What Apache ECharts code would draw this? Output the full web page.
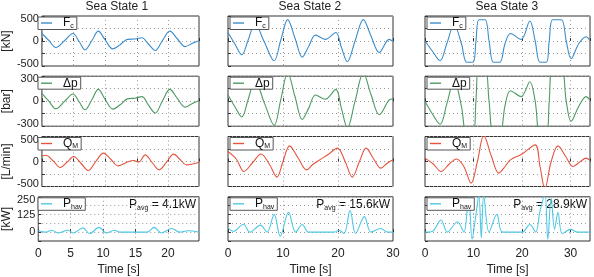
<!DOCTYPE html>
<html><head><meta charset="utf-8">
<script src="https://cdn.jsdelivr.net/npm/echarts@6/dist/echarts.min.js"></script>
<style>html,body{margin:0;padding:0;background:#fff}#c{width:594px;height:277px}</style>
</head><body><div id="c"></div>
<script>
// ---------- labels / axes ----------
const titles = ['Sea State 1', 'Sea State 2', 'Sea State 3'];
const xMax = [24.8, 30, 34];
const xInterval = [5, 10, 10];
const yNames = ['[kN]', '[bar]', '[L/min]', '[kW]'];
const yMin = [-500, -300, -500, -62.5];
const yMax = [500, 300, 500, 250];
const yInterval = [250, 150, 250, 62.5];
const yTickLabels = [[-500, 0, 500], [-300, 0, 300], [-500, 0, 500], [0, 125, 250]];
const pAvgText = ['4.1kW', '15.6kW', '28.9kW'];
const seriesKeys = ['Fc', 'dp', 'QM', 'Phav'];

// ---------- Sea State 1 ----------
const t_Fc1 = [0, 1.1, 2.2, 3.6, 4.9, 5.9, 6.8, 7.9, 8.9, 10.0, 11.2, 12.4, 13.5, 14.7, 15.8, 16.8, 17.9, 19.0, 20.2, 21.4, 22.6, 23.7, 24.8];
const Fc1   = [150, 10, -130, 10, 150, -15, -178, 10, 197, 20, -158, -70, 33, 40, 66, -60, -190, 5, 197, 40, -112, -50, 7];
const t_dp1 = [0, 1.1, 2.2, 3.6, 4.9, 5.9, 6.8, 7.9, 8.9, 10.0, 11.2, 12.4, 13.5, 14.7, 15.8, 16.8, 17.9, 19.0, 20.2, 21.4, 22.6, 23.7, 24.8];
const dp1   = [95, 0, -91, 0, 87, -10, -103, 20, 142, 20, -95, -40, 28, 36, 55, -45, -142, 0, 142, 30, -71, -30, 8];
const t_QM1 = [0, 0.6, 1.8, 2.9, 4.0, 5.0, 6.2, 7.3, 8.5, 9.7, 10.9, 12.0, 13.7, 14.5, 15.3, 16.3, 17.4, 18.5, 19.7, 20.8, 21.8, 22.8, 24.8];
const QM1   = [113, 125, 10, -120, -10, 100, -40, -180, 0, 167, 40, -87, 0, 20, -13, 133, -20, -167, -10, 147, 40, -67, -13];
const t_Ph1 = [0, 1.1, 2.1, 3.1, 4.6, 5.4, 6.9, 7.9, 9.4, 10.5, 11.7, 12.7, 14.7, 16.8, 17.9, 19.0, 20.6, 21.8, 23.1, 24.8];
const Ph1   = [10, 0, 14, -6, 14, -6, 30, -10, 34, -6, 14, 0, 0, 0, 34, -6, 26, 0, 10, 0];

// ---------- Sea State 2 ----------
const t_Fc2 = [0, 1.2, 2.5, 3.7, 4.9, 6.6, 8.4, 9.6, 10.85, 12.2, 13.5, 14.7, 15.9, 17.7, 19.6, 20.6, 21.7, 23.1, 24.6, 26.0, 27.5, 29.3, 30];
const Fc2   = [171, -50, -276, 30, 349, -20, -395, 20, 428, 50, -322, -100, 118, 33, 171, -120, -414, 0, 428, 100, -230, 33, -13];
const t_dp2 = [0, 1.2, 2.5, 3.7, 4.9, 6.6, 8.4, 9.6, 10.85, 12.2, 13.5, 14.7, 15.9, 17.7, 19.6, 20.6, 21.7, 23.1, 24.6, 26.0, 27.5, 29.3, 30];
const dp2   = [75, -60, -190, 30, 250, -20, -290, 20, 340, 50, -220, -80, 75, 24, 142, -80, -320, 0, 340, 80, -162, 15, 27];
const t_QM2 = [0, 1.5, 2.9, 4.5, 6.0, 7.5, 8.9, 10.0, 11.2, 12.8, 14.3, 15.4, 16.5, 18.2, 19.9, 21.3, 22.6, 23.9, 25.1, 26.5, 27.8, 29.0, 30];
const QM2   = [200, 50, -200, -20, 150, -50, -313, 0, 313, 60, -167, -60, 20, 140, 267, 0, -313, 0, 267, 50, -133, -30, 33];
const t_Ph2 = [0, 1, 2.8, 4, 5.9, 7.1, 8.4, 9.5, 11, 12.3, 13.5, 14.7, 19.3, 20.2, 21.1, 22.2, 23.2, 24.8, 26, 27.8, 29, 30];
const Ph2   = [30, 6, 56, 0, 50, 0, 126, -30, 140, 0, 54, 0, 0, 14, -10, 154, -10, 110, 0, 26, 0, 0];

// ---------- Sea State 3 ----------
const t_Fc3 = [0, 1.5, 3.1, 4.5, 6.0, 7.5, 8.6, 9.9, 10.5, 11.1, 12.4, 13.2, 14.1, 15.4, 16.5, 17.6, 19.8, 21.6, 22.7, 23.7, 25.0, 25.6, 26.3, 28.1, 29.1, 30.1, 31.7, 33.2, 33.9];
const Fc3   = [0, -200, -395, -50, 330, -50, -425, -425, 0, 425, 425, 0, -425, -425, -50, 150, 33, 400, 0, -425, -425, 0, 425, 425, 0, -355, -50, 85, 20];
const t_dp3 = [0, 1.5, 3.1, 4.5, 6.0, 7.5, 8.6, 9.9, 10.5, 11.1, 12.4, 13.2, 14.1, 15.4, 16.5, 17.6, 19.8, 21.6, 22.7, 23.7, 25.0, 25.6, 26.3, 28.1, 29.1, 30.1, 31.7, 33.2, 33.9];
const dp3   = [0, -150, -277, -30, 253, -60, -400, -400, 0, 400, 400, 0, -400, -400, -50, 126, 55, 233, 0, -400, -400, 0, 400, 400, 0, -241, -60, 55, 20];
const t_QM3 = [0, 1.7, 3.3, 5.0, 6.5, 8.0, 9.5, 10.8, 12.1, 13.7, 15.2, 16.5, 17.6, 20.0, 22.7, 23.7, 24.7, 26.0, 27.4, 29.0, 30.5, 32.0, 33.2, 33.9];
const QM3   = [67, -50, -200, -50, 50, -100, -433, 0, 520, 100, -233, -100, 33, 150, 333, -100, -540, 0, 313, 100, -100, 0, 67, 30];
const t_Ph3 = [0, 1.5, 3.3, 4.6, 6.7, 8.0, 9.0, 9.7, 10.4, 11.1, 11.6, 12.1, 13.2, 14.8, 16, 20, 21.6, 22.8, 23.7, 24.7, 25.3, 26, 26.7, 27.4, 28.3, 30, 31.5, 34];
const Ph3   = [0, 5, 86, 0, 74, 0, 260, -50, 100, 260, -40, 260, 0, 126, 0, 0, 54, 0, 150, 270, -50, 240, 20, 140, -10, 20, 0, 0];

const allT = [[t_Fc1, t_dp1, t_QM1, t_Ph1], [t_Fc2, t_dp2, t_QM2, t_Ph2], [t_Fc3, t_dp3, t_QM3, t_Ph3]];
const allV = [[Fc1, dp1, QM1, Ph1], [Fc2, dp2, QM2, Ph2], [Fc3, dp3, QM3, Ph3]];

// ---------- layout / style ----------
const colLeft = [36, 228, 425];
const colWidth = [163, 165, 165];
const rowTop = [16, 76.2, 136.5, 196.8];
const rowH = 50;
const colors = ['#3a8dcc', '#4e9a62', '#e5543e', '#4ec8e4'];
const FF = '"Liberation Sans", Arial, Helvetica, sans-serif';
const legendRich = {
  m: {fontSize: 12, fontFamily: FF, color: '#111', lineHeight: 13, padding: [0, 0, 0, 6]},
  n: {fontSize: 12, fontFamily: FF, color: '#111', lineHeight: 13},
  s: {fontSize: 7, fontFamily: FF, color: '#111', lineHeight: 6, verticalAlign: 'bottom'}
};
const legendFmt = {
  Fc: '{m|F}{s|c}',
  dp: '{m|\u0394p}',
  QM: '{m|Q}{s|M}',
  Phav: '{m|P}{s|hav}'
};
const tickRich = {
  hi: {fontSize: 11, fontFamily: FF, color: '#222', padding: [6, 0, 0, 0]},
  lo: {fontSize: 11, fontFamily: FF, color: '#222', padding: [0, 0, 5, 0]}
};

const grid = [], xAxis = [], yAxis = [], series = [], legend = [], graphic = [];
for (let r = 0; r < 4; r++) {
  for (let c = 0; c < 3; c++) {
    const gi = r * 3 + c;
    grid.push({left: colLeft[c], top: rowTop[r], width: colWidth[c], height: rowH,
      show: true, borderColor: '#333', borderWidth: 1, backgroundColor: '#fff', containLabel: false});
    xAxis.push({
      type: 'value', gridIndex: gi, min: 0, max: xMax[c], interval: xInterval[c],
      axisLine: {show: false},
      axisTick: {show: true, inside: true, length: 3, lineStyle: {color: '#333'}},
      axisLabel: {show: r === 3, showMaxLabel: c === 1, color: '#222', fontSize: 12, fontFamily: FF, margin: 7},
      splitLine: {show: true, lineStyle: {color: '#9a9a9a', type: [1, 3], width: 1}},
      name: r === 3 ? 'Time [s]' : '', nameLocation: 'middle', nameGap: 23,
      nameTextStyle: {fontSize: 12, fontFamily: FF, color: '#222'}
    });
    const labs = yTickLabels[r];
    const lo = labs[0], hi = labs[labs.length - 1];
    const isLoEdge = lo === yMin[r];
    yAxis.push({
      type: 'value', gridIndex: gi, min: yMin[r], max: yMax[r], interval: yInterval[r],
      axisLine: {show: false},
      axisTick: {show: true, inside: true, length: 3, lineStyle: {color: '#333'}},
      axisLabel: {show: c === 0, color: '#222', fontSize: 11, fontFamily: FF, margin: 3,
        rich: tickRich,
        formatter: v => {
          if (labs.indexOf(v) < 0) return '';
          if (v === hi) return '{hi|' + v + '}';
          if (v === lo && isLoEdge) return '{lo|' + v + '}';
          return String(v);
        }},
      splitLine: {show: true, lineStyle: {color: '#9a9a9a', type: [1, 3], width: 1}},
      name: c === 0 ? yNames[r] : '', nameLocation: 'middle', nameRotate: 90, nameGap: 24,
      nameTextStyle: {fontSize: 12, fontFamily: FF, color: '#222'}
    });
    const key = seriesKeys[r];
    const nm = key + '_' + (c + 1);
    const tt = allT[c][r], vv = allV[c][r];
    series.push({
      name: nm, type: 'line', xAxisIndex: gi, yAxisIndex: gi,
      data: tt.map((t, i) => [t, vv[i]]),
      showSymbol: false, symbol: 'none', smooth: 0.35, clip: true,
      lineStyle: {width: 1.1, color: colors[r]}, itemStyle: {color: colors[r]},
      animation: false
    });
    legend.push({
      left: colLeft[c] + 2, top: rowTop[r] + 1, data: [nm], selectedMode: false,
      icon: 'rect', itemWidth: 11, itemHeight: 1.4, itemGap: 0,
      borderColor: '#555', borderWidth: 1, backgroundColor: '#fff', borderRadius: 0,
      padding: [0, 3, 0, 3],
      formatter: () => legendFmt[key],
      textStyle: {rich: legendRich}
    });
  }
}
for (let c = 0; c < 3; c++) {
  graphic.push({type: 'text', left: colLeft[c] + colWidth[c] / 2 - 32, top: 1,
    style: {text: titles[c], fontSize: 12, fontFamily: FF, fill: '#222'}});
  graphic.push({type: 'text', right: 594 - (colLeft[c] + colWidth[c]) + 3, top: rowTop[3] + 2,
    style: {text: '{n|P}{s|avg}{n| = ' + pAvgText[c] + '}', rich: legendRich, fill: '#111'}});
}

const chart = echarts.init(document.getElementById('c'), null, {renderer: 'canvas'});
chart.setOption({animation: false, backgroundColor: '#fff', grid, xAxis, yAxis, series, legend, graphic});
</script></body></html>
